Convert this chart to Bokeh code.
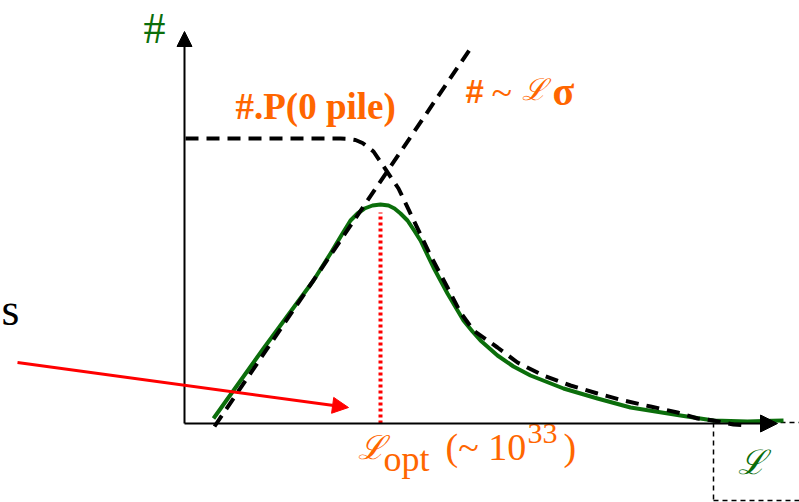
from bokeh.plotting import figure
from bokeh.models import Range1d, Arrow, NormalHead
from bokeh.core.properties import value
from bokeh.embed import file_html
from bokeh.resources import INLINE

# Luminosity (arbitrary units, 0 at the axis corner) and number of events
lumi = [0.29, 0.79, 1.29, 1.46, 1.58, 1.66, 1.73, 1.80, 1.88, 1.96, 2.04, 2.10,
        2.16, 2.23, 2.29, 2.36, 2.49, 2.63, 2.79, 2.88, 2.96, 3.13, 3.29, 3.46,
        3.79, 4.13, 4.46, 4.96, 5.29, 5.63, 5.99]
n_events = [0.05, 0.75, 1.43, 1.70, 1.90, 2.03, 2.10, 2.15, 2.18, 2.19, 2.18, 2.15,
            2.10, 2.03, 1.94, 1.83, 1.56, 1.30, 1.03, 0.92, 0.83, 0.68, 0.57, 0.48,
            0.35, 0.25, 0.16, 0.08, 0.03, 0.02, 0.03]

# Naive scaling: # ~ L sigma
lin_lumi = [0.30, 2.88]
lin_events = [-0.03, 3.78]

# Events without pile-up: #.P(0 pile)
pile_lumi = [0.01, 1.56, 1.63, 1.71, 1.78, 1.84, 1.89, 2.14, 2.46, 2.63, 2.76,
             2.89, 3.13, 3.33, 3.59, 3.86, 4.13, 4.39, 4.66, 4.93, 5.13, 5.29,
             5.49, 5.62]
pile_events = [2.85, 2.85, 2.847, 2.835, 2.805, 2.76, 2.72, 2.35, 1.68, 1.36, 1.11,
               0.93, 0.76, 0.61, 0.48, 0.38, 0.30, 0.23, 0.17, 0.11, 0.05, 0.03,
               -0.01, -0.02]

GREEN = "#0b6e0b"
ORANGE = "#ff6600"
RED = "#ff0000"
SERIF = "Liberation Serif"
SCRIPT = "DejaVu Serif"

p = figure(width=799, height=502, output_backend="svg", toolbar_location=None,
           x_axis_type=None, y_axis_type=None,
           x_range=Range1d(-1.84, 6.15), y_range=Range1d(-0.79, 4.23),
           min_border=0, outline_line_color=None)
p.grid.visible = False

# axes with arrow heads
p.add_layout(Arrow(x_start=0, y_start=0, x_end=0, y_end=3.92, line_width=2,
                   line_color="black",
                   end=NormalHead(size=15, fill_color="black", line_color="black")))
p.add_layout(Arrow(x_start=0, y_start=0, x_end=5.93, y_end=0.0, line_width=2,
                   line_color="black",
                   end=NormalHead(size=17, fill_color="black", line_color="black")))

# thin dashed frame at lower right
p.segment(x0=[5.96, 5.29, 5.29], y0=[0.01, 0.01, -0.77],
          x1=[6.15, 5.29, 6.15], y1=[0.01, -0.79, -0.77],
          line_color="black", line_width=1.5, line_dash="5 4")

# curves
p.line(lumi, n_events, line_color=GREEN, line_width=4, line_join="round")
p.line(lin_lumi, lin_events, line_color="black", line_width=4, line_dash="13 8")
p.line(pile_lumi, pile_events, line_color="black", line_width=4, line_dash="13 8",
       line_join="round")

# optimum luminosity marker
i_opt = n_events.index(max(n_events))
l_opt = lumi[i_opt]
p.segment(x0=[l_opt], y0=[0], x1=[l_opt], y1=[n_events[i_opt] - 0.08],
          line_color=RED, line_width=4, line_dash="3 3")

# red pointer arrow
p.add_layout(Arrow(x_start=-1.67, y_start=0.61, x_end=1.64, y_end=0.16,
                   line_width=3, line_color=RED,
                   end=NormalHead(size=16, fill_color=RED, line_color=RED)))


def label(x, y, txt, color, size, font=SERIF, style="normal", align="left"):
    p.text(x=[x], y=[y], text=[txt], text_color=color, text_font=value(font),
           text_font_size=size, text_font_style=style, text_align=align,
           text_baseline="alphabetic")


label(-0.41, 3.95, "#", GREEN, "44px")
label(0.51, 3.17, "#.P(0 pile)", ORANGE, "37px", style="bold")
label(2.81, 3.32, "#", ORANGE, "33px", font="Liberation Sans", style="bold")
label(3.07, 3.32, "~", ORANGE, "38px")
label(3.37, 3.34, "\u2112", ORANGE, "30px", font=SCRIPT, style="italic")
label(3.68, 3.32, "\u03c3", ORANGE, "40px", style="bold")

label(1.73, -0.24, "\u2112", ORANGE, "33px", font=SCRIPT, style="italic")
label(1.99, -0.35, "opt", ORANGE, "36px")
label(2.61, -0.23, "(~ 10", ORANGE, "38px")
label(3.43, -0.10, "33", ORANGE, "30px")
label(3.79, -0.23, ")", ORANGE, "38px")

label(5.53, -0.38, "\u2112", GREEN, "34px", font=SCRIPT, style="italic")
label(-1.83, 1.14, "s", "black", "46px")

open("out.html", "w").write(file_html(p, INLINE))
